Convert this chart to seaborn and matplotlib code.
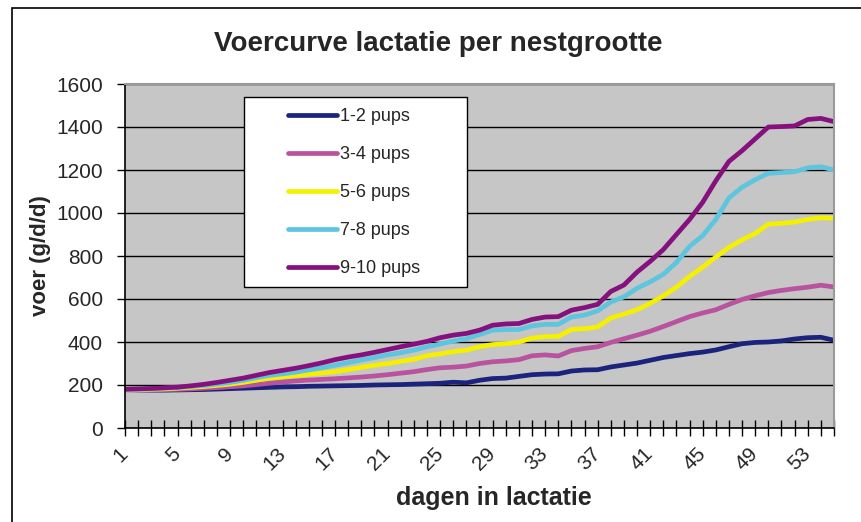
import numpy as np
import pandas as pd
import matplotlib
matplotlib.use('Agg')
import matplotlib.pyplot as plt
from matplotlib.patches import Rectangle
import seaborn as sns

# voer (g/d/d) per dag in lactatie, per nestgrootte
days = list(range(1, 56))
pups_1_2 = [178, 177, 176, 176, 177, 178, 179, 181, 183, 185,
            187, 189, 191, 192, 194, 195, 196, 197, 198, 200,
            201, 202, 204, 206, 208, 213, 210, 222, 230, 232,
            240, 248, 251, 252, 265, 270, 271, 284, 293, 302,
            315, 328, 337, 346, 353, 363, 378, 392, 398, 400,
            405, 414, 420, 422, 408]
pups_3_4 = [180, 178, 177, 178, 180, 182, 185, 188, 192, 196,
            202, 208, 214, 219, 223, 226, 229, 233, 237, 242,
            248, 255, 262, 272, 280, 283, 288, 300, 308, 312,
            318, 336, 340, 335, 360, 370, 378, 398, 415, 432,
            450, 472, 495, 518, 535, 550, 575, 598, 615, 630,
            640, 648, 655, 664, 656]
pups_5_6 = [178, 178, 180, 182, 185, 189, 193, 198, 204, 212,
            222, 232, 238, 244, 250, 256, 262, 272, 282, 292,
            300, 310, 320, 336, 345, 355, 362, 378, 388, 392,
            400, 418, 425, 426, 458, 462, 470, 512, 530, 550,
            580, 615, 655, 705, 748, 795, 840, 875, 905, 948,
            952, 958, 970, 978, 975]
pups_7_8 = [180, 180, 182, 185, 188, 193, 198, 204, 212, 222,
            234, 245, 252, 260, 270, 280, 292, 304, 316, 328,
            340, 350, 362, 378, 390, 405, 415, 435, 455, 458,
            458, 475, 482, 482, 516, 525, 545, 586, 610, 650,
            680, 715, 770, 845, 895, 970, 1070, 1120, 1155, 1185,
            1188, 1192, 1210, 1215, 1200]
pups_9_10 = [180, 182, 184, 187, 190, 196, 203, 212, 222, 232,
             245, 258, 268, 278, 290, 303, 318, 330, 340, 352,
             365, 378, 390, 403, 420, 432, 440, 455, 478, 484,
             486, 505, 516, 518, 548, 560, 575, 635, 665, 725,
             775, 830, 900, 970, 1050, 1150, 1240, 1290, 1345, 1400,
             1402, 1405, 1435, 1440, 1425]

labels = ['1-2 pups', '3-4 pups', '5-6 pups', '7-8 pups', '9-10 pups']
colors = ['#1b237c', '#b9539f', '#f4f000', '#5ec5de', '#86117e']
y_ticks = [0, 200, 400, 600, 800, 1000, 1200, 1400, 1600]

sns.set_theme(style='white')
plt.rcParams['font.family'] = ['Liberation Sans', 'DejaVu Sans']

df = pd.DataFrame({'dag': days, labels[0]: pups_1_2, labels[1]: pups_3_4,
                   labels[2]: pups_5_6, labels[3]: pups_7_8, labels[4]: pups_9_10})
long = df.melt(id_vars='dag', var_name='nest', value_name='voer')

W, H = 862, 522
fig = plt.figure(figsize=(W / 100, H / 100), dpi=100)
fig.patch.set_facecolor('white')
ax = fig.add_axes([125 / W, 1 - 428 / H, 709 / W, 344 / H])
ax.set_facecolor('#c6c6c6')

sns.lineplot(data=long, x='dag', y='voer', hue='nest', hue_order=labels,
             palette=colors, linewidth=3.4, ax=ax, legend=False)

ax.set_xlim(1, 55)
ax.set_ylim(0, 1600)
ax.set_yticks(y_ticks)
ax.set_xticks(days[::4])
ax.set_xticks(days, minor=True)
ax.set_axisbelow(True)
ax.grid(axis='y', color='black', linewidth=1)
ax.grid(axis='x', visible=False)

for side in ['left', 'bottom']:
    ax.spines[side].set_color('black')
    ax.spines[side].set_linewidth(1.2)
for side in ['top', 'right']:
    ax.spines[side].set_color('#9a9a9a')
    ax.spines[side].set_linewidth(1.5)

ax.tick_params(axis='y', direction='out', length=6, width=1, color='black',
               labelsize=15, pad=10, left=True)
ax.tick_params(axis='x', which='both', direction='inout', length=11, width=1,
               color='black', bottom=True)
ax.tick_params(axis='x', labelsize=15, pad=11)
for lbl in ax.get_xticklabels():
    lbl.set_rotation(45)
    lbl.set_ha('right')
    lbl.set_va('center')
    lbl.set_rotation_mode('anchor')

ax.set_xlabel('dagen in lactatie', fontsize=18, fontweight='bold')
ax.set_ylabel('voer (g/d/d)', fontsize=16, fontweight='bold')
ax.xaxis.label.set_va('center')
ax.xaxis.set_label_coords((494 - 125) / 709, (428 - 498) / 344)
ax.yaxis.label.set_va('center')
ax.yaxis.set_label_coords((40 - 125) / 709, 0.5)

fig.text(0.508, 1 - 44 / H, 'Voercurve lactatie per nestgrootte',
         ha='center', va='center', fontsize=20, fontweight='bold')

# legend box
ax.add_patch(Rectangle((0.168, 0.410), 0.314, 0.552, transform=ax.transAxes,
                       facecolor='white', edgecolor='black', linewidth=1,
                       zorder=4))
leg = ax.legend(handles=ax.get_lines()[:5], labels=labels, loc='center left',
                bbox_to_anchor=(0.230, 0.6846), frameon=False, fontsize=13,
                handlelength=2.7, handletextpad=0.15, labelspacing=1.16,
                borderpad=0, borderaxespad=0)
leg.set_zorder(5)

# outer frame of the picture
fig.add_artist(Rectangle((12 / W, -0.1), 2, 1 - 8 / H + 0.1,
                         transform=fig.transFigure, fill=False,
                         edgecolor='black', linewidth=1.2))

fig.savefig('out.png', dpi=100)
